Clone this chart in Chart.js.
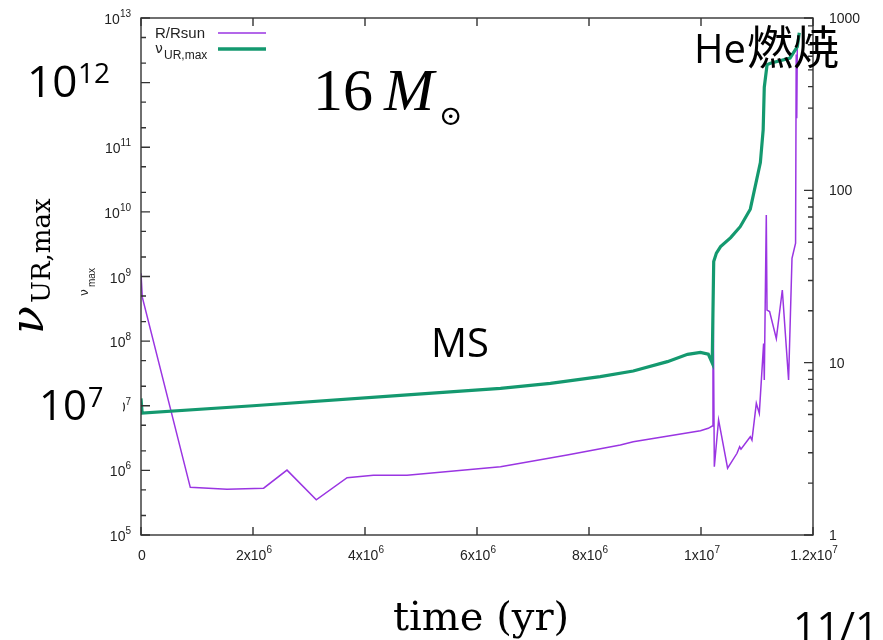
<!DOCTYPE html>
<html>
<head>
<meta charset="utf-8">
<script src="https://cdn.jsdelivr.net/npm/chart.js@4"></script>
<style>
  body { margin: 0; background: #ffffff; }
  canvas { display: block; }
</style>
</head>
<body>
<canvas id="starChart" width="883" height="640"></canvas>
<script>
const ctxStar = document.getElementById('starChart').getContext("2d");

// nu_UR,max (left axis) against time in years
const time_nu = [0, 2.0e4, 2.0e6, 4.63e6, 5.52e6, 6.42e6, 7.31e6, 8.20e6, 8.79e6, 9.40e6,
    9.76e6, 9.99e6, 1.013e7, 1.020e7, 1.0227e7, 1.0275e7, 1.035e7, 1.053e7, 1.070e7, 1.088e7,
    1.106e7, 1.111e7, 1.113e7, 1.118e7, 1.124e7, 1.159e7, 1.172e7, 1.1755e7];
const nu_max = [1.3e7, 7.7e6, 1.0e7, 1.45e7, 1.64e7, 1.86e7, 2.22e7, 2.82e7, 3.45e7, 4.81e7,
    6.25e7, 6.7e7, 6.3e7, 4.6e7, 1.7e9, 2.3e9, 2.9e9, 4.0e9, 5.9e9, 1.1e10,
    5.8e10, 1.85e11, 8.5e11, 1.9e12, 2.0e12, 2.4e12, 3.6e12, 5.9e12];

// stellar radius R/Rsun (right axis) against time in years
const time_r = [0, 2.3e4, 0.88e6, 1.536e6, 2.19e6, 2.607e6, 3.13e6, 3.68e6, 4.15e6, 4.75e6,
    6.42e6, 7.61e6, 8.56e6, 8.79e6, 9.99e6, 1.013e7, 1.020e7, 1.0214e7, 1.0238e7, 1.0314e7,
    1.0475e7, 1.0643e7, 1.069e7, 1.0714e7, 1.088e7, 1.091e7, 1.0988e7, 1.1041e7, 1.1118e7, 1.113e7,
    1.1166e7, 1.1179e7, 1.1225e7, 1.1345e7, 1.1452e7, 1.1564e7, 1.1625e7, 1.1689e7, 1.170e7, 1.171e7,
    1.172e7];
const r_sun = [33, 24, 1.89, 1.84, 1.87, 2.38, 1.6, 2.15, 2.22, 2.22,
    2.49, 2.91, 3.33, 3.48, 4.03, 4.16, 4.29, 33, 2.49, 4.65,
    2.44, 2.98, 3.25, 3.15, 3.72, 3.55, 5.81, 5.08, 12.9, 7.93,
    72, 20.2, 19.8, 13.8, 26.4, 7.93, 40.3, 49.3, 615, 262,
    700];

// axis ticks, '^' marks the exponent
const x_ticks = [0, 2e6, 4e6, 6e6, 8e6, 1e7, 1.2e7];
const x_labels = ['0', '2x10^6', '4x10^6', '6x10^6', '8x10^6', '1x10^7', '1.2x10^7'];
const left_ticks = [1e5, 1e6, 1e7, 1e8, 1e9, 1e10, 1e11, 1e12, 1e13];
const left_labels = ['10^5', '10^6', '10^7', '10^8', '10^9', '10^10', '10^11', '10^12', '10^13'];
const right_ticks = [1, 10, 100, 1000];
const right_labels = ['1', '10', '100', '1000'];

const PURPLE = '#9a35e2';
const GREEN = '#14996f';

function toPoints(xs, ys) {
    return xs.map((x, i) => ({ x: x, y: ys[i] }));
}

// text with an optional raised exponent after '^'
function supText(ctx, text, x, y, align, size, supSize, rise) {
    const parts = text.split('^');
    ctx.font = size + 'px "Liberation Sans", Arial, sans-serif';
    const w0 = ctx.measureText(parts[0]).width;
    let w1 = 0;
    if (parts.length > 1) {
        ctx.font = supSize + 'px "Liberation Sans", Arial, sans-serif';
        w1 = ctx.measureText(parts[1]).width;
    }
    let x0 = x;
    if (align === 'right') x0 = x - w0 - w1;
    if (align === 'center') x0 = x - (w0 + w1) / 2;
    ctx.textAlign = 'left';
    ctx.textBaseline = 'alphabetic';
    ctx.font = size + 'px "Liberation Sans", Arial, sans-serif';
    ctx.fillText(parts[0], x0, y);
    if (parts.length > 1) {
        ctx.font = supSize + 'px "Liberation Sans", Arial, sans-serif';
        ctx.fillText(parts[1], x0 + w0, y - rise);
    }
}

const framePlugin = {
    id: 'frame',
    afterDraw(chart) {
        const ctx = chart.ctx;
        const area = chart.chartArea;
        const sx = chart.scales.x, sy = chart.scales.y, sy2 = chart.scales.y2;
        ctx.save();
        ctx.fillStyle = '#222';
        ctx.strokeStyle = '#333';
        ctx.lineWidth = 1.4;
        ctx.strokeRect(area.left, area.top, area.right - area.left, area.bottom - area.top);

        ctx.beginPath();
        // x ticks, bottom and mirrored at top
        x_ticks.forEach(v => {
            const px = sx.getPixelForValue(v);
            ctx.moveTo(px, area.bottom); ctx.lineTo(px, area.bottom - 8);
            ctx.moveTo(px, area.top); ctx.lineTo(px, area.top + 8);
        });
        // left log ticks
        left_ticks.forEach(v => {
            const py = sy.getPixelForValue(v);
            ctx.moveTo(area.left, py); ctx.lineTo(area.left + 9, py);
            [2, 5].forEach(m => {
                if (v * m < 1e13) {
                    const pm = sy.getPixelForValue(v * m);
                    ctx.moveTo(area.left, pm); ctx.lineTo(area.left + 5, pm);
                }
            });
        });
        // right log ticks
        right_ticks.forEach(v => {
            const py = sy2.getPixelForValue(v);
            ctx.moveTo(area.right, py); ctx.lineTo(area.right - 9, py);
            for (let m = 2; m <= 9; m++) {
                if (v * m < 1000) {
                    const pm = sy2.getPixelForValue(v * m);
                    ctx.moveTo(area.right, pm); ctx.lineTo(area.right - 5, pm);
                }
            }
        });
        ctx.stroke();

        x_ticks.forEach((v, i) => {
            supText(ctx, x_labels[i], sx.getPixelForValue(v) + 1, area.bottom + 25, 'center', 14, 10, 7);
        });
        left_ticks.forEach((v, i) => {
            supText(ctx, left_labels[i], area.left - 10, sy.getPixelForValue(v) + 6, 'right', 14, 10, 7);
        });
        right_ticks.forEach((v, i) => {
            supText(ctx, right_labels[i], area.right + 16, sy2.getPixelForValue(v) + 5, 'left', 14, 10, 7);
        });

        // small rotated axis name
        ctx.save();
        ctx.translate(88, 296);
        ctx.rotate(-Math.PI / 2);
        ctx.font = '12px "DejaVu Sans", sans-serif';
        ctx.fillText('\u03bd', 0, 0);
        ctx.font = '10px "Liberation Sans", sans-serif';
        ctx.fillText('max', 9, 7);
        ctx.restore();

        // key
        ctx.font = '15px "Liberation Sans", Arial, sans-serif';
        ctx.fillText('R/Rsun', 155, 38);
        ctx.font = '14px "DejaVu Sans", sans-serif';
        ctx.fillText('\u03bd', 155, 53);
        ctx.font = '12px "Liberation Sans", Arial, sans-serif';
        ctx.fillText('UR,max', 164, 59);
        ctx.lineWidth = 1.5;
        ctx.strokeStyle = PURPLE;
        ctx.beginPath(); ctx.moveTo(218, 33); ctx.lineTo(266, 33); ctx.stroke();
        ctx.lineWidth = 3.5;
        ctx.strokeStyle = GREEN;
        ctx.beginPath(); ctx.moveTo(218, 49); ctx.lineTo(266, 49); ctx.stroke();

        // slide annotations
        ctx.fillStyle = '#ffffff';
        ctx.fillRect(20, 56, 115, 47);
        ctx.fillRect(34, 384, 89, 44);
        ctx.fillStyle = '#000000';

        ctx.font = '44px "Open Sans", sans-serif';
        ctx.fillText('10', 27, 97);
        ctx.font = '28px "Open Sans", sans-serif';
        ctx.fillText('12', 78, 83);

        ctx.font = '42px "Open Sans", sans-serif';
        ctx.fillText('10', 39, 420);
        ctx.font = '27px "Open Sans", sans-serif';
        ctx.fillText('7', 88, 407);

        ctx.font = '60px "Liberation Serif", serif';
        ctx.fillText('16', 313, 110);
        ctx.font = 'italic 60px "Liberation Serif", serif';
        ctx.fillText('M', 384, 110);
        ctx.font = '28px "DejaVu Serif", serif';
        ctx.fillText('\u2299', 439, 125);

        ctx.font = '40px "Open Sans", sans-serif';
        ctx.fillText('MS', 431, 357);

        ctx.font = '40px "Open Sans", sans-serif';
        ctx.fillText('He', 694, 63);
        ctx.font = '46px "Noto Sans CJK JP", sans-serif';
        ctx.fillText('燃焼', 747, 64);

        ctx.font = '40px "DejaVu Serif", serif';
        ctx.fillText('time (yr)', 393, 630);

        ctx.font = '41px "Open Sans", sans-serif';
        ctx.fillText('11/1', 793, 641);

        // big rotated axis name
        ctx.save();
        ctx.translate(43, 334);
        ctx.rotate(-Math.PI / 2);
        ctx.font = 'italic 46px "DejaVu Serif", serif';
        ctx.fillText('\u03bd', 0, 0);
        ctx.font = '26px "DejaVu Serif", serif';
        ctx.fillText('UR,max', 31, 7);
        ctx.restore();

        ctx.restore();
    }
};

const star_config = {
    type: 'line',
    data: {
        datasets: [{
            label: 'R/Rsun',
            data: toPoints(time_r, r_sun),
            yAxisID: 'y2',
            borderColor: PURPLE,
            borderWidth: 1.5,
            pointRadius: 0,
            tension: 0,
            order: 1,
        },
        {
            label: 'nu_UR,max',
            data: toPoints(time_nu, nu_max),
            yAxisID: 'y',
            borderColor: GREEN,
            borderWidth: 3.2,
            pointRadius: 0,
            tension: 0,
            order: 0,
        }]
    },
    options: {
        responsive: false,
        animation: false,
        layout: { padding: { left: 141, right: 70, top: 18, bottom: 105 } },
        plugins: {
            legend: { display: false },
            tooltip: { enabled: false },
        },
        scales: {
            x: {
                type: 'linear', min: 0, max: 1.2e7,
                ticks: { display: false }, grid: { display: false }, border: { display: false },
                afterFit: (s) => { s.height = 0; },
            },
            y: {
                type: 'logarithmic', position: 'left', min: 1e5, max: 1e13,
                ticks: { display: false }, grid: { display: false }, border: { display: false },
                afterFit: (s) => { s.width = 0; },
            },
            y2: {
                type: 'logarithmic', position: 'right', min: 1, max: 1000,
                ticks: { display: false }, grid: { display: false }, border: { display: false },
                afterFit: (s) => { s.width = 0; },
            },
        },
    },
    plugins: [framePlugin],
};

const starChart = new Chart(ctxStar, star_config);
</script>
</body>
</html>
